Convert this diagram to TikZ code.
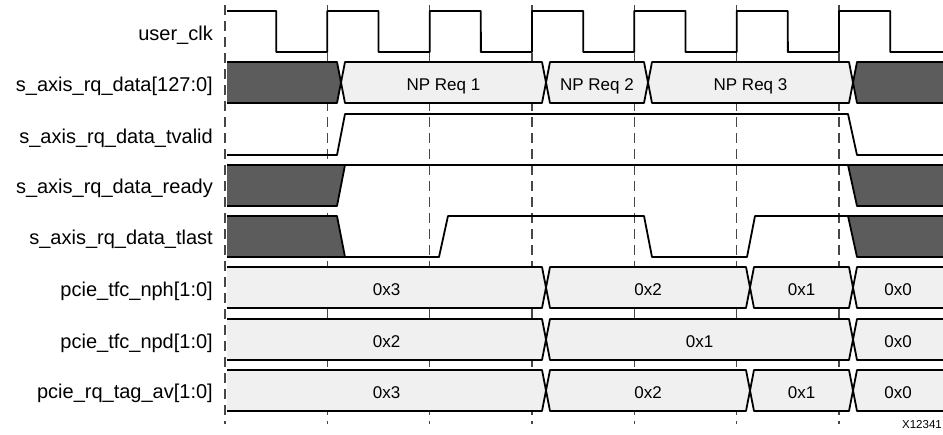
\documentclass[tikz,border=0pt]{standalone}
\usepackage{fontspec}
\setmainfont{Liberation Sans}
\tikzset{
  wire/.style={line width=1.8pt, line join=round, black},
  guide/.style={line width=1.1pt, dash pattern=on 10pt off 6pt, black!72},
  lbl/.style={font=\fontsize{20}{24}\selectfont, inner sep=0pt, anchor=base east},
  val/.style={font=\fontsize{17}{20}\selectfont, inner sep=0pt, anchor=base},
  darkfill/.style={fill=black!64},
  lightfill/.style={fill=black!6},
}
\newcommand\busseg[4]{%
  \fill[#4] (#1,#3+20.5) -- (#1+4,#3) -- (#2-4,#3) -- (#2,#3+20.5) -- (#2-4,#3+41) -- (#1+4,#3+41) -- cycle;
  \draw[wire] (#1,#3+20.5) -- (#1+4,#3) -- (#2-4,#3) -- (#2,#3+20.5) -- (#2-4,#3+41) -- (#1+4,#3+41) -- cycle;}
\newcommand\busfirst[3]{%
  \fill[#3] (227,#2) -- (#1-4,#2) -- (#1,#2+20.5) -- (#1-4,#2+41) -- (227,#2+41) -- cycle;
  \draw[wire] (227,#2) -- (#1-4,#2) -- (#1,#2+20.5) -- (#1-4,#2+41) -- (227,#2+41);}
\newcommand\buslast[3]{%
  \fill[#3] (946,#2) -- (#1+4,#2) -- (#1,#2+20.5) -- (#1+4,#2+41) -- (946,#2+41) -- cycle;
  \draw[wire] (946,#2) -- (#1+4,#2) -- (#1,#2+20.5) -- (#1+4,#2+41) -- (946,#2+41);}
\begin{document}
\begin{tikzpicture}[x=1pt,y=-1pt]
\useasboundingbox (0,0) rectangle (943,434);
% guide lines
\foreach \k in {0,...,6}
  \draw[guide] ({225+102.33*\k},5) -- ({225+102.33*\k},424);
% labels
\node[lbl] (l1) at (213,40.5) {user\_clk};
\node[lbl] (l2) at (213,91.5) {s\_axis\_rq\_data[127:0]};
\node[lbl] (l3) at (213,143) {s\_axis\_rq\_data\_tvalid};
\node[lbl] (l4) at (213,193) {s\_axis\_rq\_data\_ready};
\node[lbl] (l5) at (213,244.5) {s\_axis\_rq\_data\_tlast};
\node[lbl] (l6) at (213,296) {pcie\_tfc\_nph[1:0]};
\node[lbl] (l7) at (213,348.5) {pcie\_tfc\_npd[1:0]};
\node[lbl] (l8) at (213,398.5) {pcie\_rq\_tag\_av[1:0]};
% clock
\draw[wire] (227,11) -- (276.2,11)
  \foreach \k in {1,...,6} { -- ({225+102.33*\k-51.13},52) -- ({225+102.33*\k},52) -- ({225+102.33*\k},11) -- ({225+102.33*\k+51.17},11) }
  -- (890.2,52) -- (946,52);
% data bus
\busfirst{341}{62}{darkfill}
\busseg{341}{546}{62}{lightfill}
\busseg{546}{648}{62}{lightfill}
\busseg{648}{853}{62}{lightfill}
\buslast{853}{62}{darkfill}
\node[val] (d1) at (443.5,90.5) {NP Req 1};
\node[val] (d2) at (597,90.5) {NP Req 2};
\node[val] (d3) at (750.5,90.5) {NP Req 3};
% tvalid
\draw[wire] (227,155) -- (337,155) -- (345,114) -- (848,114) -- (857,155) -- (946,155);
% ready
\fill[darkfill] (227,165) -- (345,165) -- (337,206) -- (227,206) -- cycle;
\fill[darkfill] (848,165) -- (946,165) -- (946,206) -- (857,206) -- cycle;
\draw[wire] (227,165) -- (946,165);
\draw[wire] (227,206) -- (337,206) -- (345,165);
\draw[wire] (946,206) -- (857,206) -- (848,165);
% tlast
\fill[darkfill] (227,216) -- (337,216) -- (345,257) -- (227,257) -- cycle;
\fill[darkfill] (848,216) -- (946,216) -- (946,257) -- (857,257) -- cycle;
\draw[wire] (227,216) -- (337,216) -- (345,257) -- (439,257) -- (448,216) -- (644,216) -- (652,257) -- (747,257) -- (755,216) -- (946,216);
\draw[wire] (227,257) -- (345,257);
\draw[wire] (848,216) -- (857,257) -- (946,257);
% nph
\busfirst{546}{267}{lightfill}
\busseg{546}{750}{267}{lightfill}
\busseg{750}{853}{267}{lightfill}
\buslast{853}{267}{lightfill}
\node[val] (n1) at (386.5,295.5) {0x3};
\node[val] (n2) at (648,295.5) {0x2};
\node[val] (n3) at (801.5,295.5) {0x1};
\node[val] (n4) at (898,295.5) {0x0};
% npd
\busfirst{546}{319}{lightfill}
\busseg{546}{853}{319}{lightfill}
\buslast{853}{319}{lightfill}
\node[val] (p1) at (386.5,347.5) {0x2};
\node[val] (p2) at (699.5,347.5) {0x1};
\node[val] (p3) at (898,347.5) {0x0};
% tag_av
\busfirst{546}{370}{lightfill}
\busseg{546}{750}{370}{lightfill}
\busseg{750}{853}{370}{lightfill}
\buslast{853}{370}{lightfill}
\node[val] (t1) at (386.5,398.5) {0x3};
\node[val] (t2) at (648,398.5) {0x2};
\node[val] (t3) at (801.5,398.5) {0x1};
\node[val] (t4) at (898,398.5) {0x0};
% figure id
\node[font=\fontsize{11.5}{13}\selectfont, inner sep=0pt, anchor=base east] (fid) at (942,428) {X12341};
\end{tikzpicture}
\end{document}
